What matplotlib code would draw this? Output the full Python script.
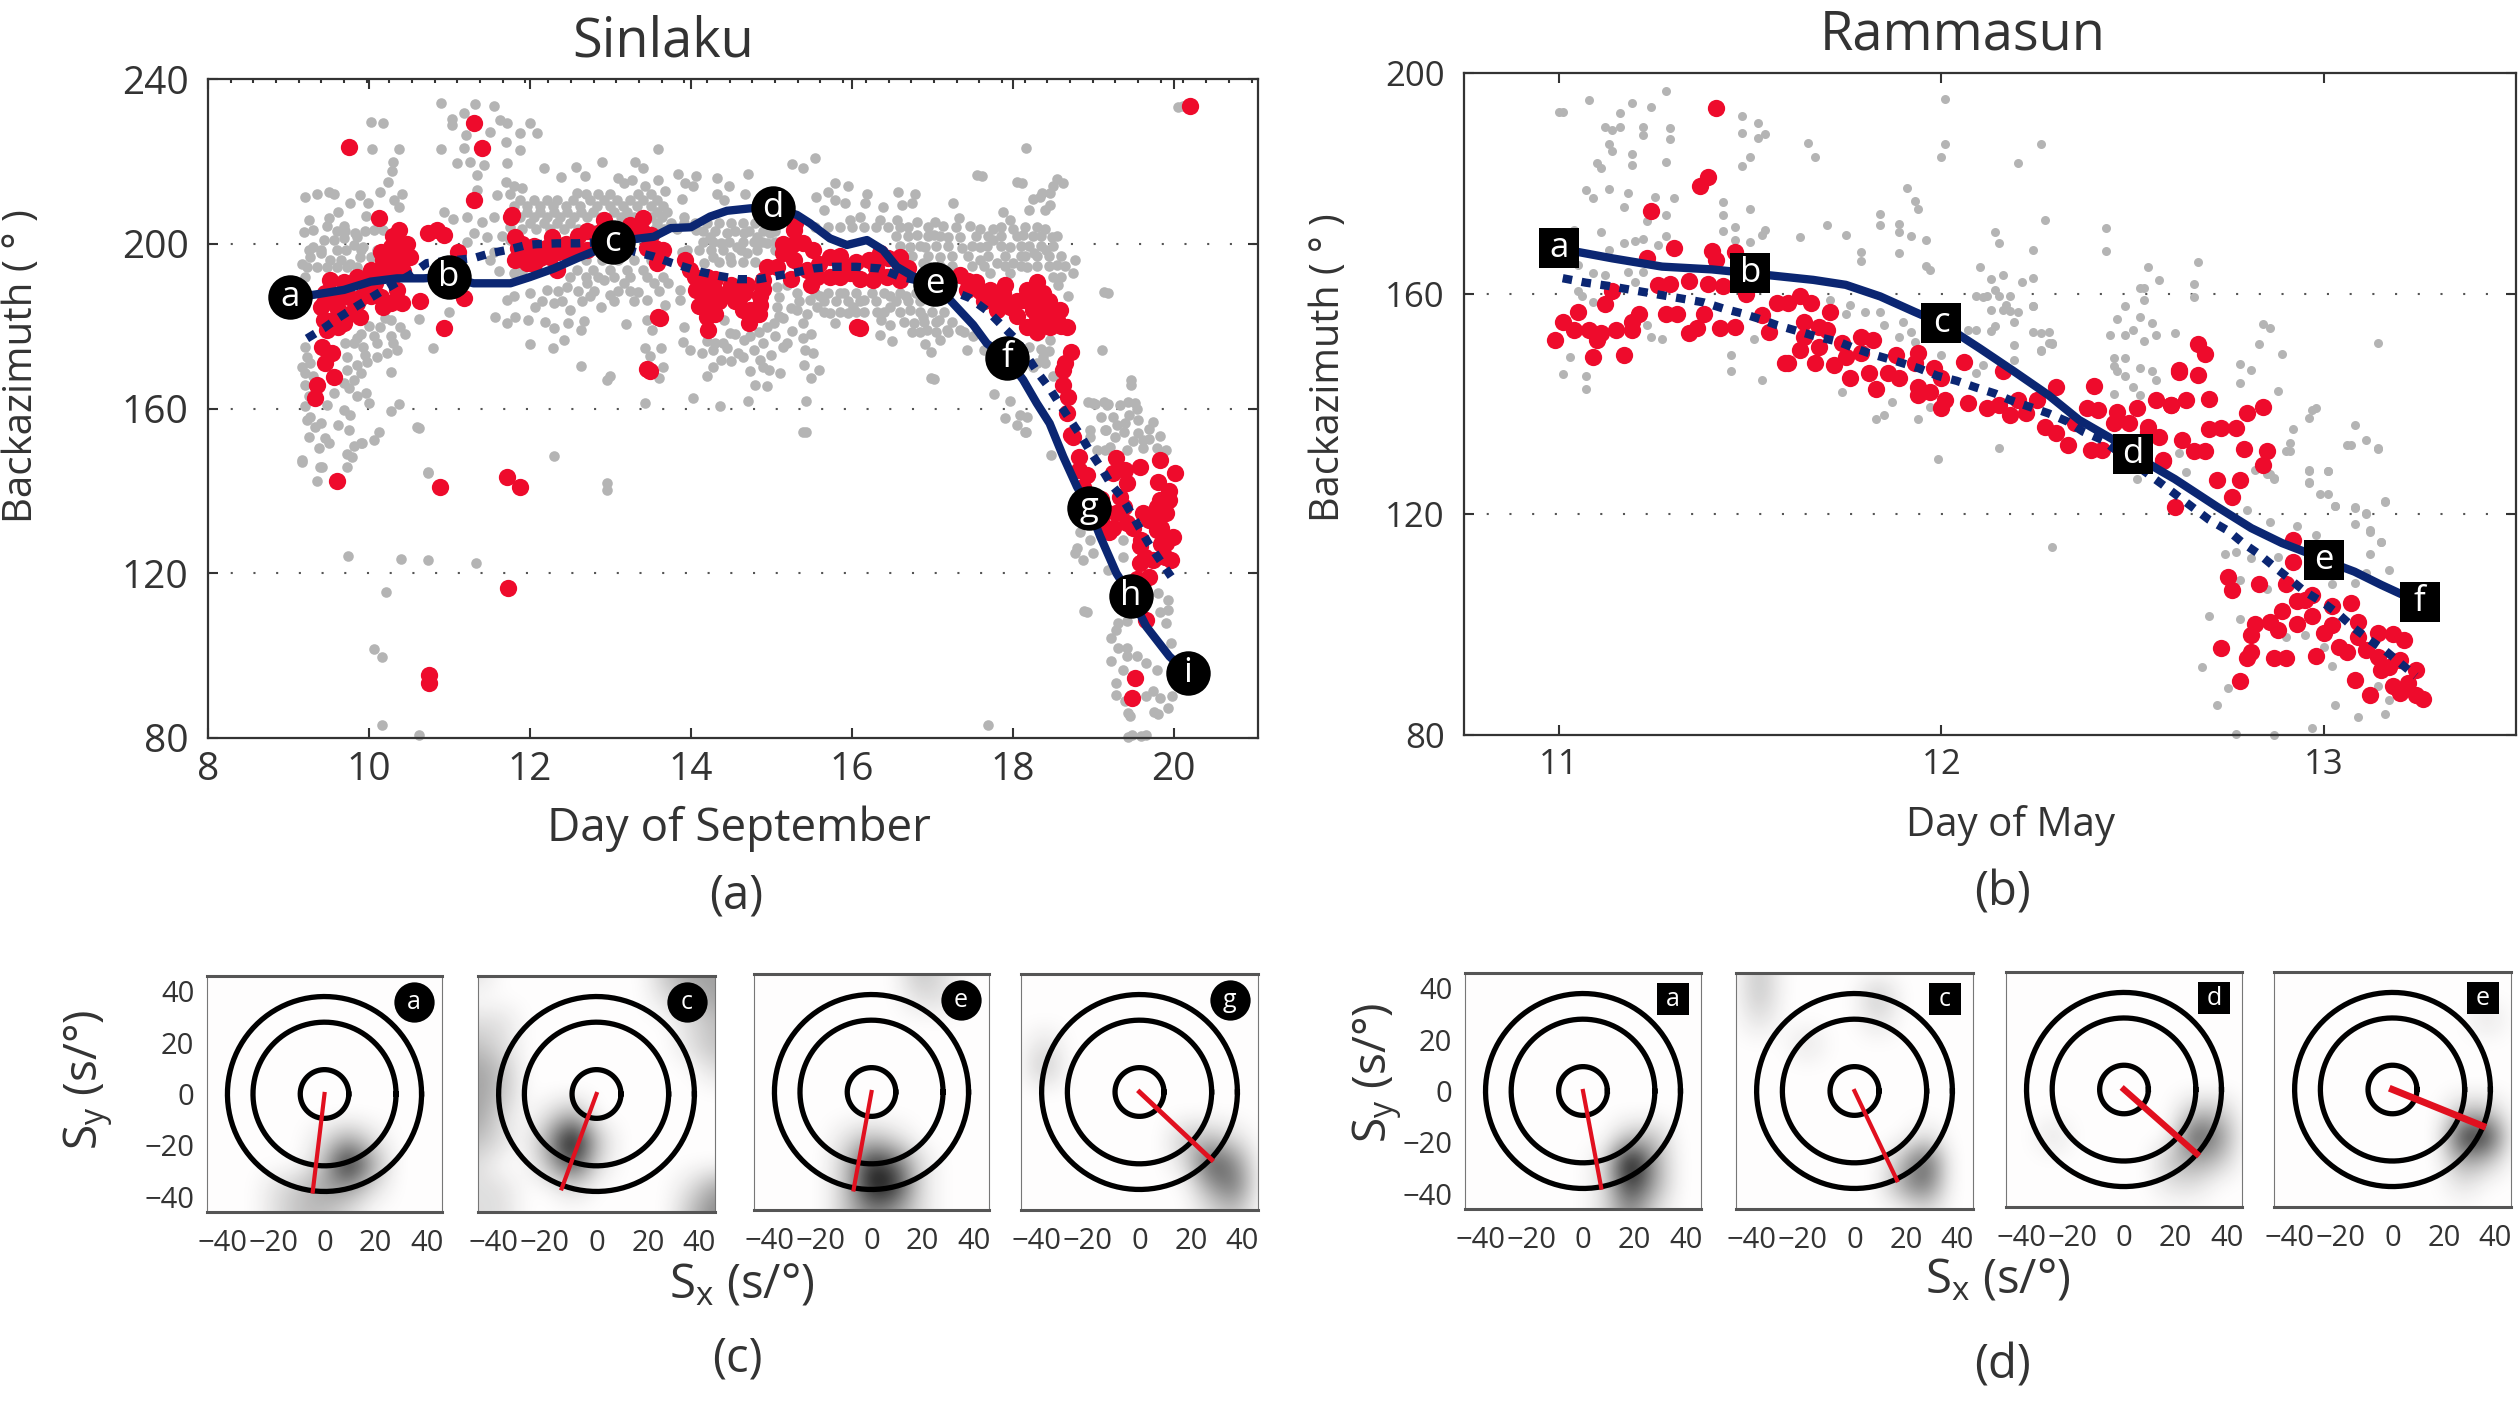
import matplotlib
matplotlib.use("Agg")
import matplotlib.pyplot as plt
from matplotlib.colors import LinearSegmentedColormap
import numpy as np

plt.rcParams['font.family'] = ['Open Sans', 'DejaVu Sans']
plt.rcParams['mathtext.default'] = 'regular'

WIDTH = 2519
HEIGHT = 1402
GRAY = "#b4b4b4"
RED = "#ee0b2c"
NAVY = "#0b2672"
INK = "#333333"

# ---- (a) Sinlaku, values
sinlaku_gray = [
    (10.89,234.1),(11.32,234),(11.55,233.4),(10.02,229.6),(10.18,229.2),(11.03,230.4),(11.18,231.7),(11.03,228.8),(11.63,230),(11.72,229.2),
    (11.51,227.2),(11.21,226.4),(11.7,224.8),(10.04,222.9),(10.38,222.9),(10.89,222.9),(11.18,223.2),(11.09,219.7),(11.26,219.9),(11.43,219.1),
    (10.3,219.9),(10.29,217.7),(10.24,215.1),(11.34,216.7),(11.34,213),(11.72,219.5),(11.7,215.1),(11.59,211.8),(9.2,211.3),(9.36,212.1),
    (9.5,212.6),(9.56,212.2),(9.89,211.8),(9.77,209.8),(9.99,209.8),(10.14,212.6),(10.41,212.2),(10.31,210.6),(10.37,209),(9.96,206.7),
    (9.62,207.8),(9.5,206.2),(9.25,205.8),(9.48,204.2),(9.69,204.2),(9.31,203.3),(9.19,202.9),(9.83,202.5),(10.06,203.3),(10.18,203.3),
    (10.93,207.8),(11.05,205.9),(11.22,206.6),(11.4,205.4),(11.55,206.6),(11.3,202.5),(11.47,201.7),(11.22,200.5),
    (9.23,194.4),(9.35,194.4),(9.48,194.4),(9.6,194.4),(9.73,194.4),(9.85,194.4),(9.17,195.2),(9.27,196.9),(9.4,197.7),(9.52,196.1),
    (9.65,196.1),(9.77,195.2),(9.89,196.9),(10.02,196.9),(10.1,198.5),(9.93,199.3),(9.81,199.7),(9.69,201.3),(9.56,200.9),(9.44,200.9),
    (9.31,199.3),(9.85,201.7),(9.23,172.6),(9.21,175),(9.21,168.5),(9.21,165.7),(9.56,163.7),(9.48,160.9),(9.27,158),(9.4,156.4),
    (9.23,157.2),(9.33,155.6),(9.69,159.6),(9.77,158.4),(9.62,156),(9.75,154.8),(9.25,153.2),(9.46,152.8),(9.5,151.6),(9.38,150.4),
    (9.17,147.1),(9.42,145.7),(9.73,145.7),(9.36,142.3),(9.79,148.3),(9.81,150.8),(9.91,151.7),(10.06,152.4),(10.12,154.4),(10.62,155.2),
    (10.74,144.3),(9.81,175.8),(9.93,175),(10.06,177.5),(10.14,179.9),(10.27,181.5),(10.39,179.9),(10.27,177.5),(10.35,174.2),(10.22,173.4),
    (10.1,172.6),(9.98,171.4),(9.85,170.6),(9.73,169.4),(9.73,172.6),(9.81,166.9),(9.69,166.1),(9.96,163.7),(10,161.3),(10.27,159.3),
    (10.38,161),(10.27,168.9),(10.62,181.7),(10.8,174.6),(10.99,183.5),(11.57,182.3),(11.72,180.7),(11.72,186.3),
    (9.74,124.1),(10.4,123.5),(10.74,123.3),(11.33,122.5),(10.21,115.4),(10.06,101.6),(10.16,99.7),(10.16,83.2),(10.62,80.8),(12.3,148.5),
    (12.96,142),(12.96,140.3),(17.7,83.2),(15.39,154.4),(16.98,167.4),(19.43,86),(19.76,86.2),(19.43,80.2),(19.6,80.5),(18.89,110.8),
    (9.39,145.8),(9.17,147.4),(9.73,149),(9.9,151.7),(10.6,155.5),(10.73,144.7),(19.13,188.3),(18.17,223.2),(17.56,216.7),(18.06,215),
    (18.55,215.6),(18.5,214),(18.37,212.4),(18.25,210.8),(19.47,166.9),(19.47,165.8),(18.94,161.5),(19.13,161.5),(19.43,161.5),
    (20.05,233.2),(20.12,233.5),
    (12,229.2),(11.88,226.8),(12.09,226.8),(11.88,222.8),(13.59,222.9),(12.9,219.8),(13.31,219.8),(13.41,218.3),(12.18,218.3),(12.57,218.7),
    (12.39,216.3),(12.69,216.5),(13.84,216.9),(14.07,216.5),(14.32,215.9),(14.71,216.9),(15.26,219.4),(15.4,218.3),(13.59,215.5),(13.93,214.7),
    (14.03,213.9),(14.47,214.1),(13.89,210.9),(14.32,212.2),(14.41,210.6),(14.68,212.1),(13.1,215.9),(13.27,215.5),(13.43,213.9),(13.17,214.7),
    (13.68,212.7),(12.58,212.4),(11.88,210.6),(12.05,210.6),(12.21,210.6),(12.34,210.6),(12.54,210.6),(12.75,210.6),(12.92,210.6),(13.08,210.6),
    (13.25,210.6),(13.41,210.6),(13.58,210.6),(11.96,207.8),(12.13,207.8),(12.3,207.8),(12.46,207.8),(12.63,207.8),(12.79,207.8),(13.04,207.8),
    (13.21,207.8),(13.58,207.8),(13.7,207.8),(12,205),(12.17,205),(12.34,205),(12.5,205),(13.58,205),(13.75,205),(13.91,205),
    (12.58,193.6),(12.79,193.6),(13,193.6),(13.21,193.6),(13.41,193.6),(12.46,189.6),(12.71,190.4),(12.92,191.2),(13.17,190.4),(13.35,188.4),
    (13.54,190.4),(13.72,190.4),(12.21,188.8),(12,188),(11.8,187.2),(12.3,185.5),(12.5,183.9),(12.75,187.2),(12.88,184.7),(13,187.6),
    (12.07,184.7),(13.45,186.4),(13.68,185.1),(11.82,182.3),(11.98,181.5),(12.19,181.1),(12.3,179.5),(12.48,180.7),(12.67,181.3),(12.63,179.1),
    (13.19,180.5),(13.45,181.5),(13.52,179.1),(12,175.7),(12.29,174.6),(12.43,176.6),(12.63,170.4),(13,167.8),(12.96,167),(13.91,179.9),
    (13.9,176.2),(13.99,174.2),(14.14,173.4),(14.28,174.2),(14.45,174.6),(14.59,173.4),(14.78,174.2),(14.86,171.8),(14.9,175.8),(14.74,177.5),
    (14.49,178.3),(14.41,181.5),(14.66,176.6),(14.95,179.9),(15.03,180.7),(15.15,181.9),(15.26,178.9),(15.4,180.7),(15.4,177.1),(15.42,174.2),
    (15.41,170.6),(14.74,169),(14.97,169.4),(15.11,168.6),(14.8,165.7),(14.95,165.5),(14.2,167.9),(14.28,170),(14.38,171.8),(13.43,174.6),
    (13.49,172.8),(13.63,174.6),(13.65,170),(13.61,167.4),(14.03,162.6),(14.36,160.5),(14.71,161.9),(15.43,161.9),(13.43,161.3),(15.43,154.2),
    (13.91,206.6),(14.24,201.7),(14.45,202.5),(14.66,202.5),(14.28,196.9),(14.49,196.9),(14.7,197.7),(14.82,201.7),(14.95,200.1),(14.99,202.5),
    (14.37,200.1),(14.57,199.3),(14.07,203.3),(13.89,198.1),(14.16,195.3),(15.07,189.6),(15.32,188),(15.48,189.6),(15.07,184.7),(15.32,183.9),
    (15.48,186.4),(13.87,188.8),(13.87,186.4),
    (15.54,220.7),(17.62,216.5),(18.12,214.8),(18.63,214.8),(15.79,214.7),(15.71,212.6),(15.95,214.1),(15.56,211.4),(15.79,210.6),(15.92,209.8),
    (16.19,212.1),(16.17,209.8),(16.57,212.6),(16.79,212),(16.62,209.4),(16.75,209.8),(17.26,209.8),(16.39,209),(18.34,211.4),(18.46,212.4),
    (18.2,208.2),(18.46,209.4),(18.4,208.2),(17.88,207.8),(15.65,208.2),(15.98,205.8),(16.1,206.6),(16.35,205.8),(16.56,205.8),(16.81,205.4),
    (17.04,205.4),(17.14,204.2),(17.33,206.2),(17.47,204.2),(17.6,203.7),(17.76,203.7),(17.97,205.8),(18.01,203.7),(18.13,202.1),(18.4,203.7),
    (18.49,201.6),(17.02,202.1),(17.2,201.7),(17.35,201.7),(16.81,202.1),(16.91,199.3),(16.73,199.3),(16.89,195.3),(17.1,196.9),(17.37,198.9),
    (17.6,199.3),(17.76,200.9),(17.97,199.3),(17.6,196.1),(17.8,195.3),(18.01,195.3),(18.26,197.7),(18.42,198.5),(18.18,194.4),(17.97,192.8),
    (17.72,192.8),(18.55,194.8),(18.77,196),(18.75,192.8),(18.57,190),(18.69,187.2),(19.18,188),
    (15.61,187.2),(15.57,184.7),(15.73,183.1),(15.79,180.7),(15.9,188),(15.96,183.1),(16.02,184.7),(16.15,186.4),(16.31,183.5),(16.37,181.5),
    (16.48,180.3),(16.35,177.9),(16.5,176.3),(16.48,187.2),(16.48,184.7),(16.68,187.2),(16.73,183.9),(16.77,180.7),(16.89,182.3),(16.93,179),
    (17.08,181.5),(17.18,179),(17.1,176.6),(16.91,175.7),(16.98,173.6),(17.43,174.2),(17.35,179),(17.51,177.5),(17.64,174.2),(17.02,167.2),
    (18.3,177.5),(18.46,176.6),(18.38,172.6),(18.3,171),(19.11,174.2),(17.77,163.5),(17.97,161.7),(18.18,158),(17.9,157.6),(18.06,156),
    (18.17,154.4),(19,161.3),(19.17,160.9),(18.96,154.8),(19.15,154.8),(15.6,169.4),(15.52,173.4),(15.5,167.4),
    (19.02,161.1),(19.19,161),(19.33,160.9),(19.52,161.3),(19.4,156.4),(19.38,154.4),(19.16,154.8),(19.56,157.2),(19.75,156.8),(19.83,153.3),
    (19.27,153.2),(19.56,154),(19.62,152.4),(19.21,150.7),(19.42,150),(19.62,150.3),(19.79,150.3),(19.91,150),(18.09,158.4),(18.15,154.4),
    (18.48,148.7),(18.96,153.2),(18.84,130.1),(18.96,128.1),(18.8,126.1),(18.77,124.8),(18.87,123.1),(19,124.8),(19.37,128.1),(19.37,124),
    (19.19,120.8),(18.93,110.5),(19.81,115.1),(19.93,113.5),(19.93,111.1),(19.83,110.7),(19.91,107.9),(19.31,108),(19.42,108.3),(19.29,106.2),
    (19.22,104.4),(19.97,103),(19.31,101.8),(19.42,101.8),(19.42,99.8),(19.54,99.8),(19.66,98.1),(19.79,96.5),(19.22,98.8),(19.37,96.5),
    (19.29,93.3),(19.29,90.5),(19.4,88.9),(19.75,91.3),(19.66,90.1),(19.83,89.7),(19.98,90.1),(19.93,87.2),(19.81,85.8),(19.46,85.4),
    (19.49,80.8),(19.66,80.8),
]
# second pass over the solid looking bands of the cloud
sinlaku_gray_dense = [
    (12.7,212),(12.85,212),(13,212),(13.35,212),(13.5,212),
    (11.8,209.2),(11.97,209.2),(12.13,209.2),(12.29,209.2),(12.45,209.2),(12.62,209.2),(12.83,209.2),(13,209.2),(13.16,209.2),(13.33,209.2),(13.5,209.2),(13.66,209.2),
    (11.88,206.4),(12.05,206.4),(12.21,206.4),(12.38,206.4),(12.55,206.4),(12.71,206.4),(12.88,206.4),(13.13,206.4),(13.3,206.4),(13.5,206.4),(13.64,206.4),
    (11.9,203.6),(12.08,203.6),(12.25,203.6),(12.42,203.6),(12.6,203.6),(12.76,203.6),(13.55,203.6),(13.67,203.6),(13.83,203.6),
    (12.7,196),(12.9,196),(13.1,196),(13.3,196),(13.5,196),
    (12.5,192),(12.7,192),(12.85,192),(13.05,192),(13.25,192),(13.45,192),(13.65,192),
    (12.35,188.5),(12.6,188.5),(12.8,188.5),(13.1,188.5),(13.25,188.5),(13.6,188.5),(12.15,186),(12.4,186),(12.65,186),(13.05,186),(13.3,186),
    (14.05,205),(14.2,205),(14.35,205),(14.5,205),(14.65,205),(14.8,205),
    (14.15,203),(14.3,203),(14.55,203),(14.72,203),(14.9,203),(15.05,203),
    (14.15,200.5),(14.28,200.5),(14.48,200.5),(14.65,200.5),(14.78,200.5),(14.88,200.5),(15.05,200.5),
    (13.95,198.5),(14.1,198.5),(14.25,198.5),(14.4,198.5),(14.62,198.5),(14.82,198.5),(15.05,198.5),
    (14.35,195.5),(14.5,195.5),(14.65,195.5),(14.8,195.5),
    (15.1,187),(15.2,190),(15.35,186),(15.1,182.5),(15.25,184.5),(15.45,183),(15.5,178),(15.2,176),(15.05,177.5),
    (14.4,176),(14.55,178),(14.65,172.5),(14.85,178.5),(15,173),(15.15,175),(14.3,176),(14.2,176.5),(14.9,170),(14.5,171.5),
    (15.55,204),(15.7,204),(15.85,204),(16,204),(16.15,204),(16.3,204),(16.45,204),(16.6,204),(16.7,204),(16.95,204),(17.3,204),(17.85,204),(18.15,204),(18.3,204),
    (16.55,202),(16.7,202),(16.95,202),(17.1,202),(17.55,202),(17.7,202),(17.85,202),(18.05,202),(18.25,202),(18.35,202),(18.55,202),
    (16.6,199.5),(16.85,199.5),(17.05,199.5),(17.2,199.5),(17.5,199.5),(17.68,199.5),(17.85,199.5),(18.1,199.5),(18.2,199.5),(18.35,199.5),(18.5,199.5),
    (16.75,197),(16.95,197),(17.25,197),(17.45,197),(17.7,197),(17.9,197),(18.1,197),(18.15,197),(18.3,197),(18.45,197),(18.6,197),
    (16.95,194.5),(17.1,194.5),(17.25,194.5),(17.5,194.5),(17.65,194.5),(17.9,194.5),(18.1,194.5),(18.3,194.5),(18.45,194.5),(18.65,194.5),(18.5,192),(18.6,192),
    (15.55,188),(15.7,188),(15.85,188),(16.05,188),(16.25,188),(16.4,188),(16.6,188),(16.8,188),(16.95,188),
    (15.65,186),(15.8,186),(15.95,186),(16.1,186),(16.3,186),(16.55,186),(16.7,186),(16.85,186),(17,186),
    (15.65,183.5),(15.85,183.5),(16.05,183.5),(16.15,183.5),(16.4,183.5),(16.6,183.5),(16.85,183.5),(17,183.5),(17.15,183.5),
    (16.65,181),(16.9,181),(17.05,181),(17.25,181),(16.75,178.5),(16.85,178.5),(17.05,178.5),(17.2,178.5),(17.4,178.5),
    (18.2,175),(18.35,174.5),(18.25,170),(18.4,171),(18.5,168),(18.45,174),
    (9.6,203),(9.7,203),(9.95,203),(9.25,198.5),(9.4,198.5),(9.6,198.5),(9.72,198.5),(9.9,198.5),(9.95,193),(9.2,192),
    (9.27,171),(9.17,170),(9.25,163),(9.3,168),(9.2,160.5),
    (9.9,178),(10,180),(10.2,182),(10.1,176),(9.95,173),(9.85,177),(10.3,176),(10.45,178),(9.75,165),(9.9,168.5),(9.7,176),(9.85,163),
    (19.1,158),(19.25,158),(19.45,158.5),(19.55,160),(19.7,155),(19.5,152),(19.7,152.5),(19.3,156),(19.85,147),(19.15,150),(19.05,150),
    (11.75,201),(11.75,204),(11.9,213.5),(11.8,214),(11.75,212),(11.55,198),(11.65,202),(11.5,196),(11.62,193.5),(11.8,193),(11.9,193.5),
]
sinlaku_red = [
    (9.75,223.6),(11.31,229.4),(11.4,223.2),(11.31,210.7),(10.13,206.2),(10.64,186),(10.93,179.5),(9.6,142.3),(10.88,141),(11.71,143.4),(11.88,140.9),
    (10.37,203.3),(10.47,200),(10.27,199.3),(10.51,196.9),(10.18,196),(10.39,196.4),(10.02,193.6),(9.85,192),(9.52,191.2),(9.69,190.8),(9.93,191.2),
    (10.18,193.2),(9.44,185.5),(9.6,184.7),(9.85,185.5),(10.02,187.2),(9.44,181.5),(9.69,180.7),(9.89,182.3),(9.48,179),(10.27,185.5),(10.41,185.5),
    (10.35,188.8),(9.4,184.7),(9.98,188.8),(10.18,184.7),(9.42,175),(9.54,173.4),(9.46,171),(9.56,167.7),(9.36,165.7),(9.33,162.5),
    (10.85,203.3),(10.74,202.5),(10.93,202.1),(11.11,198.1),(11.18,186.8),(11.76,206.6),
    (11.78,207),(11.82,201.7),(11.82,196.1),(11.96,195.3),(11.96,198.1),(12.13,196.5),(12.27,201.7),(12.25,196.9),(12.34,193.6),(12.46,197.7),
    (12.71,203),(12.71,198.5),(12.92,205.8),(13.41,206.2),(13.35,203.3),(13.5,202.1),(13.45,198.9),(13.58,195.3),(13.66,198.5),(13.62,181.9),(13.49,169.2),
    (13.93,196),(13.99,193.6),(14.12,189.6),(14.28,189.6),(14.24,186),(14.2,182.3),(14.22,179.1),(14.45,188),(14.66,188),(14.86,187.2),(14.86,185.2),
    (14.74,184),(14.72,180.7),(14.07,188.8),(14.35,186),(14.55,186),(15.28,203.3),(15.4,200.1),(15.15,197.7),(14.95,194.4),(15.28,196.1),(15.07,194.4),
    (15.44,193.6),(15.26,199.7),(14.9,191.2),(15.52,198.5),(15.57,192),(15.73,196.9),(15.73,192),(15.94,194.4),(15.98,192.8),(16.21,196.1),(16.27,191.2),
    (16.35,197.7),(16.6,196.9),(16.6,191.2),(16.44,192),(16.1,179.5),(17.35,192.4),(17.55,190.8),(17.72,188.8),(17.88,188),(17.43,188.8),(18.3,190.8),
    (18.38,188),(18.18,188.8),(18.13,186.4),(17.97,184.7),(18.18,179.9),(18.38,183.9),(18.59,183.9),(18.67,179.9),(18.46,179.9),(17.8,186),(18.3,181.5),
    (18.73,173.8),(18.65,171),(18.63,169.4),(18.63,165.7),(18.69,162.9),(18.67,158.8),(18.75,153.2),(18.73,153.6),(18.82,148.3),(18.92,143.9),
    (19.29,147.9),(19.25,144.3),(19.42,141.8),(19.33,138.6),(19.29,134.6),(19.25,130.9),(19.42,132.1),(19.58,145.9),(19.83,147.5),(20.02,144.3),
    (19.81,142.2),(19.95,137.8),(19.91,134.6),(19.75,133.8),(19.83,137.8),(19.62,134.6),(19.79,130.5),(19.99,128.9),(19.58,126.5),(19.91,127.3),
    (19.97,123.2),(19.58,122.4),(19.7,119.2),(19.75,123.2),(19.52,94.5),(19.49,89.7),(19.66,108.7),(20.21,233.5),(10.75,95.4),(10.75,93.3),
    (11.73,116.3),(13.59,182.3),(13.46,169.6),(16.06,179.7),
    (10.3,202),(10.4,199),(10.3,196),(10.15,198),(10.42,193.5),(10.3,193),(10.08,190.5),(9.75,187),(9.6,187),(9.5,188.3),(9.75,183),(9.55,181.5),(9.62,179.7),(9.9,187),(10.15,187),(9.45,188),
    (14.05,192),(14.15,187.5),(14.3,183),(14.3,191.5),(14.5,190),(14.7,190),(14.9,189),(14.85,183),(14.65,184),(14.6,186.5),(14.2,192),(14.1,185),
    (12.05,195),(12.2,199),(12.35,198),(12.55,199.5),(12.6,202),(12.45,200),(12.85,202.5),(13,203),(12.05,199.5),(11.9,200),(11.85,199),(13.25,204.5),(13.4,203),(13.55,199),(13.6,196.5),
    (15.3,205),(15.15,200),(15.25,191.5),(15.6,195),(15.5,190),(15.85,192),(15.85,197),(16.05,195.5),(16.1,191.5),(16.3,194),(16.45,196.5),(16.6,194),(16.7,194),
    (17.45,191),(17.6,188.5),(17.65,186),(17.8,184),(17.9,190),(18.05,186),(18.05,182.5),(18.25,186),(18.25,184),(18.45,186),(18.5,182),(18.3,178.5),(18.55,181.5),(18.6,180),
    (18.82,145),(18.88,141),(19.4,145),(19.38,136),(19.1,138),(19.15,135),(19.2,130),(19.1,133),(19.5,131),(19.6,128),(19.7,133),(19.85,131),(19.9,124),(19.65,124),(19.55,118.5),(19.85,127),(19.8,136),(19.95,140),
]
sinlaku_track = [
    (9.02,187),(9.31,187.6),(9.69,188.8),(10.02,190.8),(10.35,191.6),(10.68,191.6),(10.99,192),(11.3,190.4),(11.76,190.4),(12.0,191.9),(12.3,194),
    (12.59,196.5),(12.79,198.1),(13.03,200.5),(13.29,201.1),(13.54,201.7),(13.75,203.8),(14.0,204),(14.24,206.6),(14.45,208),(14.74,208.6),(15.02,208.8),
    (15.32,207),(15.48,205),(15.73,201.3),(15.94,199.7),(16.19,200.9),(16.39,198.5),(16.56,194.4),(16.77,192),(17.04,190.2),(17.3,184.7),(17.51,180.3),
    (17.68,175.8),(17.93,172.2),(18.13,167),(18.3,161.3),(18.46,156.4),(18.63,148.3),(18.8,141),(18.95,135.9),(19.09,128.9),(19.29,120),(19.47,114.5),
    (19.66,107.1),(19.95,99.8),(20.18,95.7),
]
sinlaku_dashed = [
    (9.23,177),(9.44,179.5),(9.62,182),(9.87,185.1),(10.16,188.5),(10.51,192.4),(10.72,195.3),(11.3,196.5),(11.51,197.7),(11.72,198.5),(11.96,199.7),
    (12.09,199.9),(12.34,200.1),(12.59,200.1),(13.0,200.5),(13.31,198),(13.54,196.9),(13.77,195.3),(14,193.9),(14.12,193.2),(14.35,192.2),(14.59,191.4),
    (14.84,191.4),(15.07,192.2),(15.3,193),(15.52,194),(15.77,194.4),(16.06,194.4),(16.35,194),(16.6,192),(17.04,190.2),(17.47,186.8),(17.7,183.5),
    (17.86,180.3),(18.05,176.6),(18.32,168.5),(18.46,164.9),(18.59,160.9),(18.84,153.6),(18.96,149.7),(19.09,145.9),(19.21,142),(19.35,138.6),(19.47,134.7),
    (19.58,130.9),(19.7,126.9),(19.83,123.2),(19.97,119.2),
]
sinlaku_stations = [("a",9.02,187),("b",10.99,192),("c",13.03,200.5),("d",15.02,208.8),("e",17.04,190.2),("f",17.93,172.2),("g",18.95,135.9),("h",19.47,114.5),("i",20.18,95.7)]

# ---- (b) Rammasun
rammasun_gray = [
    (11.28,196.7),(11.08,195.1),(11,192.9),(11.01,192.9),(11.19,194.5),(11.16,192.7),(11.24,193.8),(11.48,192.2),(11.52,190.9),(11.12,190.3),(11.16,190.3),
    (11.14,189.6),(11.22,190.3),(11.22,188.8),(11.29,190.1),(11.29,188),(11.48,189.2),(11.54,188.9),(11.52,188.3),(11.13,187.1),(11.14,185.9),(11.19,185.3),
    (11.19,183.3),(11.1,183.6),(11.11,182.7),(11.28,183.9),(11.5,184.8),(11.48,183.2),(11.07,178.8),(11.09,177.3),(11.13,179),(11.18,178.2),(11.17,175.8),
    (11.25,177.6),(11.3,177.4),(11.43,176.6),(11.43,174.3),(11.5,175.3),(11.28,174.3),(11.23,173.2),(11.11,171.1),(11.17,169.1),(11.2,169.6),(11.22,169.9),
    (11.28,170.5),(11.26,168.8),(11.43,171.4),(11.46,172.1),(11.54,171.5),(11.46,169.7),(11.5,169.4),(11.53,170.6),(11.04,171.5),(11.13,167.9),(11.18,164),
    (11.22,164),(11.09,163.8),(11.12,163.4),(11.05,165.2),(11.2,162.2),(11.05,160.4),(11.06,159.5),(11.09,158.5),(11.23,154.3),(11.24,152.2),(11.27,151.7),
    (11.51,151.8),(11.03,148.6),(11.45,148.9),(11.45,146),(11.01,145.4),(11.07,145.1),(11.07,142.7),(11.53,144.3),
    (11.71,158.9),(11.76,158),(11.75,156.4),(11.8,156.6),(11.84,156.7),(11.85,154.4),(11.9,154.9),(11.92,153.1),(11.89,152.2),(11.93,151.3),(12,148.9),
    (12.09,159.5),(12.12,159.5),(12.14,160.7),(12.18,159.6),(12.17,158),(12.16,157),(12.2,156.7),(12.24,157.8),(12.13,157),(12.19,154.9),(12.14,154.1),
    (12.07,153.4),(12.09,153.4),(12.24,153.1),(12.28,153.1),(12.19,150.7),(12.26,149.8),(12.28,151),(12.29,151),(12.19,148),(12.11,147),(12.09,145.7),
    (11.74,142.2),(11.87,140.4),(11.85,138),(11.83,137.2),(11.94,137.2),(11.97,139.5),(12.15,132),(11.99,130),(12.29,114),(12.48,157.8),(12.46,155.4),
    (12.52,155.8),(12.53,158.9),(12.52,161),(12.44,152.5),(12.48,152.5),(12.5,153.4),(12.55,154.6),(12.56,152.5),(12.53,151.4),(12.45,148.3),(12.48,148.3),
    (12.45,146.8),(12.46,145.9),(12.48,145),(12.52,146.5),(12.55,145.9),(12.56,144.4),(12.5,143),(12.45,141.9),(12.52,141.6),(12.61,152.8),
    (12.01,195.2),(12.01,187.1),(12,184.7),(12.26,187.1),(12.2,183.7),(11.65,187.3),(11.67,184.7),(12.27,173.4),(11.91,179.2),(11.93,176.8),(11.94,175.3),
    (11.84,174.5),(11.89,172.7),(11.89,171.1),(11.92,170.5),(11.96,169.7),(12.14,171.1),(12.15,169.1),(12.24,168),(12.43,171.9),(12.43,167.7),(12.54,164.9),
    (12.67,165.8),(12.57,162.4),(12.53,161),(12.66,161.8),(12.66,159.4),(11.63,170.3),(11.7,172.5),(11.75,170.7),(11.84,172.5),(11.79,167.5),(11.89,167.3),
    (11.79,166),(11.96,165),(11.97,164.2),(12.1,164.8),(12.13,162.6),(12.16,163.4),(12.21,162.2),(12.24,162.8),(12.11,159.4),(12.15,159.5),(12.24,157.7),
    (12.18,156.9),(12.13,153.3),(12.26,152.9),(12.29,150.8),(12.26,149.6),(12.84,154.5),(12.86,153.7),(12.83,150.8),(12.89,149),(12.78,147.2),(12.81,146.1),
    (12.78,143.8),(12.88,142.3),(13.14,151.1),(12.97,139),(12.98,139.2),(12.96,137.4),(12.92,135.4),(12.9,131.5),(13.08,136.2),(13.11,133.5),(13.06,132.6),
    (13.14,131.8),(12.96,127.9),(13.01,127.9),(12.96,125.7),(13.16,122.2),(13.03,121.5),(13.08,121.2),(13.11,120),(13.12,116.8),(13.15,114.9),(12.87,126.5),
    (12.86,127.3),(12.91,132.9),(12.91,131.4),(13.07,132.6),(13.14,132),(12.96,128),(13.01,127.9),(12.96,125.8),(12.99,123.7),(13.01,123.7),(13.16,122.4),
    (13.03,121.6),(13.08,121.3),(13.11,120.3),(13.08,118.2),(13.12,117.2),(12.93,117.9),(12.86,118.7),(12.8,120.8),(12.98,116.3),(13.15,115),(13.12,112.9),
    (12.74,112.9),(12.77,113.2),(12.81,112),(12.88,112.3),(13.17,110),(13.11,109.3),(13.02,107.3),(13.08,107.5),(12.78,108.1),(12.85,106.5),(12.7,101.6),
    (12.78,101),(12.9,97.8),(12.95,98.1),(13,95.9),(12.68,92.3),(13.02,92.5),(12.75,88.6),(12.72,85.5),(13.03,85.4),(13.09,83.3),(13.16,83.8),(12.97,81.2),
    (12.77,80.1),(12.87,80),(13.14,88.8),(13.17,86.4),(12.51,126.4),(12.64,127.7),(12.87,126.4),(12.82,128),(12.85,127.4),(12.62,131.2),
]
rammasun_red = [
    (11.41,193.6),(11.39,181.2),(11.37,179.5),(11.24,175),(11.3,168.3),(11.4,167.8),(11.46,167.6),(11.23,166.4),(11.41,166.1),(11.26,161.6),(11.29,161.8),
    (11.34,162.3),(11.39,161.8),(11.43,161.3),(11.49,160),(11.57,158.3),(11.14,160.4),(11.12,158.2),(11.05,156.6),(11.01,154.9),(11.21,156.3),(11.19,154.9),
    (11.28,156.3),(11.31,156.3),(11.38,156.3),(11.53,156.1),(11.55,153.1),(11.36,153.7),(11.34,152.8),(11.42,153.7),(11.46,154),(11.15,153.4),(11.11,152.8),
    (11.08,153.4),(11.04,153.4),(10.99,151.6),(11.1,151.6),(11.19,153.4),(11.09,148.6),(11.17,148.9),(11.59,147.4),
    (11.6,158.3),(11.63,159.5),(11.66,158.3),(11.6,147.4),(11.67,147.4),(11.71,156.6),(11.64,154.9),(11.63,149.8),(11.64,152.2),(11.68,154),(11.68,150.4),
    (11.7,153.4),(11.72,147.1),(11.76,144.7),(11.74,151),(11.79,152.2),(11.82,151.6),(11.75,148.6),(11.79,149.2),(11.81,145.6),(11.83,142.8),(11.86,145.6),
    (11.88,148.9),(11.89,144.7),(11.94,149.2),(11.93,147.4),(11.94,143.1),(11.94,141.6),(11.97,142.2),(12.01,140.7),(12,139.2),(11.98,146.5),(12,144.7),
    (12.06,147.7),(12.07,140.1),(12.12,139.2),(12.15,139.8),(12.18,138),(12.2,140.7),(12.22,138.3),(12.25,140.7),(12.16,145.9),(12.3,143),(12.27,135.9),
    (12.3,134.7),(12.33,132.5),(12.4,143.3),(12.39,131.7),(12.42,131.7),(12.35,136.5),(12.38,139.2),(12.41,138.9),(12.46,138.6),(12.51,139.2),(12.45,136.5),
    (12.49,136.5),(12.54,135.9),(12.57,134.1),(12.56,140.7),(12.6,139.8),(12.58,129.8),(12.61,121.4),(12.62,146.2),
    (12.67,150.8),(12.69,149),(12.62,145.8),(12.67,145.2),(12.64,140.7),(12.7,140.9),(12.6,139.9),(12.84,139.5),(12.8,138.3),(12.7,135.4),(12.73,135.7),
    (12.77,135.7),(12.66,131.5),(12.69,131.5),(12.79,131.9),(12.85,131.5),(12.84,128.9),(12.72,126.2),(12.78,126.2),(12.76,123.2),(12.58,129.7),(12.63,133.4),
    (12.54,135),(12.75,108.7),(12.76,106.3),(12.83,107.3),(12.9,107.3),(12.92,115.4),(12.92,111.4),(12.93,104.2),(12.95,104.5),(12.97,105.4),(12.89,102.4),
    (12.82,100.2),(12.86,100.5),(12.88,99),(12.81,98.1),(12.93,100.2),(12.97,101.5),(13,98.4),(13.02,100),(13.02,103.3),(13.07,103.9),(13.09,100.5),(12.73,95.7),
    (12.81,95.1),(12.8,93.9),(12.87,93.9),(12.9,93.9),(12.98,94.3),(13.04,96),(13.06,95.1),(12.78,89.7),(13.08,90),(13.12,87.3),(13.09,97.8),(13.11,95.4),
    (13.14,98.4),(13.18,98.3),(13.21,97.3),(13.14,94.2),(13.15,91.8),(13.17,92.4),(13.2,93.6),(13.18,88.8),(13.2,87.6),(13.22,89.4),(13.24,91.8),(13.24,87.3),
    (13.26,86.5),
]
rammasun_track = [
    (11,168.2),(11.14,166.4),(11.27,164.9),(11.4,164.4),(11.5,163.7),(11.665,162.5),(11.75,161.6),(11.84,159.5),(11.93,156.7),(12,154.6),(12.1,150.1),(12.19,145.9),
    (12.28,141.6),(12.36,137.1),(12.45,133.5),(12.5,130.9),(12.57,128),(12.61,126.4),(12.72,121.4),(12.81,117.5),(12.89,114.8),(12.95,113.2),(13,111.7),(13.08,109.6),
    (13.15,107.2),(13.2,105.6),(13.25,104.1),
]
rammasun_dashed = [
    (11.01,162.8),(11.07,162),(11.13,161.4),(11.18,160.8),(11.23,160.2),(11.28,159.6),(11.33,159),(11.38,158.4),(11.43,157.3),(11.48,156.4),(11.53,155.3),(11.57,154.3),
    (11.63,153.1),(11.68,152.1),(11.73,151.3),(11.77,150.2),(11.82,149),(11.88,147.8),(11.94,146.5),(11.99,145.1),(12.04,144.2),(12.09,143),(12.14,141.9),(12.18,140.7),
    (12.23,139.5),(12.28,138.3),(12.33,136.8),(12.37,135),(12.42,133.5),(12.55,126.8),(12.58,125.3),(12.62,123.2),(12.66,121.1),(12.7,119),(12.75,117),(12.79,114.7),
    (12.83,112.8),(12.87,110.5),(12.91,108.3),(12.95,106),(13,103.9),(13.04,101.8),(13.08,99.3),(13.12,97.2),(13.16,95.3),(13.2,93),(13.24,90.7),
]
rammasun_stations = [("a",11,168.2),("b",11.5,163.7),("c",12,154.6),("d",12.5,130.9),("e",13,111.7),("f",13.25,104.1)]

# ---- (c), (d) slowness maps, darkness 0-9 on a coarse grid, top row first
map_xy_ticks = [-40, -20, 0, 20, 40]
ring_radii = [38, 28, 9.5]
blank = "00000000000"

sinlaku_maps = [
    ("a", (-4.6, -38), 3.0, [blank]*7 + ["00000131000", "00000283000", "00012331000", "00012210000"]),
    ("c", (-13.5, -36.8), 3.0, ["10000000233", "00000000123", "11000000012", "21000000012", "32000000001", "32000000000",
                                "31013000000", "21039200000", "10026100000", "11001000013", "11000000024"]),
    ("e", (-7, -38), 3.0, ["00000002100", "00000001100"] + [blank]*5 + ["00001210000", "00002751000", "00002871000", "00002431000"]),
    ("g", (28, -26.4), 3.5, [blank]*3 + ["01000000000", "02000000000"] + [blank]*2 + ["00000002210", "00000001640", "00000000350", "00000000120"]),
]
rammasun_maps = [
    ("a", (7.1, -37.7), 3.0, [blank]*7 + ["00000002200", "00000019300", "00000017300", "00000014100"]),
    ("c", (16.5, -34.8), 3.0, ["02000000000", "02000020000", "01000010000", "00010000000"] + [blank]*3 + ["00000000100", "00000002600", "00000003500", "00000000100"]),
    ("d", (28.4, -25.2), 4.5, [blank]*6 + ["00000000220", "00100000640", "00000002320", "00000001100", blank]),
    ("e", (35, -14.3), 5.0, [blank]*2 + ["00000000010"] + [blank]*3 + ["00000000220", "00000000770", "00000000320", "00000000100", blank]),
]

# pixel boxes of the axes in the reference (left, right, top, bottom)
box_a = (208, 1258, 79, 738)
box_b = (1464, 2516, 73, 735)
boxes_c = [(207, 442, 976, 1212), (478, 715, 976, 1212), (754, 989, 974, 1210), (1021, 1258, 974, 1210)]
boxes_d = [(1465, 1701, 973, 1209), (1736, 1973, 973, 1209), (2006, 2242, 972, 1207), (2274, 2511, 972, 1207)]

map_cmap = LinearSegmentedColormap.from_list("slowness", ["#fefdfd", "#8a8a8a", "#121212"])

fig = plt.figure(figsize=(WIDTH / 100, HEIGHT / 100), dpi=100)


def add_box(box):
    left, right, top, bottom = box
    return fig.add_axes([left / WIDTH, 1 - bottom / HEIGHT, (right - left) / WIDTH, (bottom - top) / HEIGHT])


def put_text(x, y, s, size, **kw):
    fig.text(x / WIDTH, 1 - y / HEIGHT, s, fontsize=size, color=INK, ha="center", va="center", **kw)


def draw_track_panel(ax, gray, red, track, dashed, stations, gray_size, marker, marker_size, label_size):
    gx, gy = zip(*gray)
    rx, ry = zip(*red)
    ax.scatter(gx, gy, s=gray_size, color=GRAY, linewidths=0, zorder=2, clip_on=False)
    ax.scatter(rx, ry, s=155, color=RED, linewidths=0, zorder=3, clip_on=False)
    tx, ty = zip(*track)
    dx, dy = zip(*dashed)
    ax.plot(tx, ty, color=NAVY, lw=6, zorder=4, solid_capstyle="round", solid_joinstyle="round")
    ax.plot(dx, dy, color=NAVY, lw=6, ls=(0, (1.15, 1.15)), zorder=4, dash_capstyle="butt")
    for name, x, y in stations:
        ax.plot([x], [y], marker=marker, ms=marker_size, color="black", mew=0, zorder=5)
        ax.text(x, y, name, color="white", fontsize=label_size, ha="center", va="center", zorder=6)
    for side in ax.spines.values():
        side.set_color(INK)
        side.set_linewidth(1.6)
    ax.tick_params(axis="both", which="major", direction="in", length=7, width=1.5, top=True, right=True,
                   labelsize=28, labelcolor=INK, color=INK)
    ax.tick_params(axis="x", which="major", pad=9)
    ax.tick_params(axis="y", which="major", pad=14)


# panel (a)
ax_a = add_box(box_a)
ax_a.set_xlim(8, 21.05)
ax_a.set_ylim(80, 240)
ax_a.set_xticks([8, 10, 12, 14, 16, 18, 20])
ax_a.set_yticks([80, 120, 160, 200, 240])
ax_a.set_xticks(np.arange(8.28, 21, 0.282), minor=True)
ax_a.tick_params(axis="x", which="minor", direction="in", top=True, bottom=False, length=3, width=1.5, color=INK)
for level in [120, 160, 200]:
    ax_a.axhline(level, color="#555555", lw=1.5, ls=(0, (1, 9.9)), zorder=1)
draw_track_panel(ax_a, sinlaku_gray + sinlaku_gray_dense, sinlaku_red, sinlaku_track, sinlaku_dashed, sinlaku_stations, 58, "o", 32, 25)

# panel (b)
ax_b = add_box(box_b)
ax_b.set_xlim(10.752, 13.502)
ax_b.set_ylim(80, 200)
ax_b.set_xticks([11, 12, 13])
ax_b.set_yticks([80, 120, 160, 200])
for level in [120, 160]:
    ax_b.axhline(level, color="#555555", lw=1.5, ls=(0, (1, 9.9)), zorder=1)
draw_track_panel(ax_b, rammasun_gray, rammasun_red, rammasun_track, rammasun_dashed, rammasun_stations, 42, "s", 29, 25)
ax_b.tick_params(axis="both", which="major", labelsize=25)


def draw_maps(maps, boxes, marker):
    for i, (name, end, line_w, rows) in enumerate(maps):
        ax = add_box(boxes[i])
        cells = np.array([[int(c) for c in row] for row in rows])
        ax.imshow(cells, cmap=map_cmap, vmin=0, vmax=7.5, extent=(-50.6, 50.6, -50.6, 50.6),
                  interpolation="bicubic", aspect="auto", zorder=1)
        angle = np.linspace(0, 2 * np.pi, 200)
        for r in ring_radii:
            ax.plot(r * np.cos(angle), r * np.sin(angle), color="black", lw=3.8, zorder=2)
        ax.plot([0, end[0]], [0, end[1]], color="#e1101f", lw=line_w, zorder=3)
        ax.plot([35], [36], marker=marker, ms=29 if marker == "o" else 23, color="black", mew=0, zorder=4)
        ax.text(35, 35.5, name, color="white", fontsize=18, ha="center", va="center", zorder=5)
        ax.set_xlim(-46, 46)
        ax.set_ylim(-46, 46)
        ax.set_xticks(map_xy_ticks)
        ax.set_yticks(map_xy_ticks)
        ax.tick_params(length=0, labelsize=21, labelcolor=INK)
        ax.tick_params(axis="x", pad=12)
        ax.tick_params(axis="y", pad=9)
        if i > 0:
            ax.set_yticklabels([])
        ax.spines["top"].set_color("#555555")
        ax.spines["bottom"].set_color("#555555")
        ax.spines["top"].set_linewidth(2.2)
        ax.spines["bottom"].set_linewidth(2.2)
        ax.spines["left"].set_color("#777777")
        ax.spines["right"].set_color("#777777")


draw_maps(sinlaku_maps, boxes_c, "o")
draw_maps(rammasun_maps, boxes_d, "s")

# titles, axis names, panel letters
put_text(663, 42, "Sinlaku", 39)
put_text(1963, 35, "Rammasun", 39)
put_text(739, 829, "Day of September", 33)
put_text(2010, 826, "Day of May", 29)
put_text(22, 366, "Backazimuth ( ° )", 29, rotation=90)
put_text(1329, 368, "Backazimuth ( ° )", 28.5, rotation=90)
put_text(736, 896, "(a)", 34)
put_text(2003, 893, "(b)", 34)
put_text(742, 1285, "S$_{x}$ (s/°)", 34)
put_text(1998, 1280, "S$_{x}$ (s/°)", 34)
put_text(88, 1080, "S$_{y}$ (s/°)", 33, rotation=90)
put_text(1377, 1073, "S$_{y}$ (s/°)", 33, rotation=90)
put_text(737, 1359, "(c)", 34)
put_text(2002, 1366, "(d)", 34)

fig.savefig("out.png", dpi=100, facecolor="white")
